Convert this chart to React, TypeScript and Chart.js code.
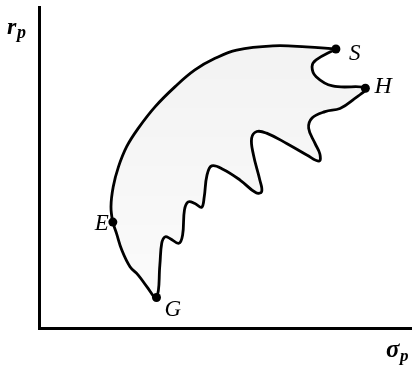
import React, { useEffect, useRef } from "react";
import { Chart, registerables } from "chart.js";

Chart.register(...registerables);

// Boundary of the feasible set (sigma_p, r_p), traced S -> top -> E -> G -> wiggles -> H -> S
const boundarySigma = [
  7.96, 7.16, 6.27, 5.3, 4.72, 4.18, 3.65, 3.11, 2.66, 2.35, 2.13, 1.99, 1.93,
  1.98, 2.08, 2.22, 2.44, 2.66, 2.89, 3.15,
  3.24, 3.29, 3.38, 3.51, 3.75, 3.85, 3.9, 4.0, 4.18, 4.36, 4.43, 4.5, 4.63,
  4.94, 5.39, 5.82, 5.97, 5.92, 5.75, 5.7, 5.84, 6.1, 6.64, 7.18, 7.51, 7.53,
  7.4, 7.23, 7.32, 7.67, 8.07, 8.41, 8.75,
  7.87, 7.43, 7.32, 7.43, 7.96,
];
const boundaryR = [
  8.69, 8.76, 8.79, 8.66, 8.4, 8.04, 7.52, 6.89, 6.22, 5.65, 5.02, 4.4, 3.78,
  3.3, 2.94, 2.43, 1.91, 1.65, 1.29, 0.95,
  1.96, 2.64, 2.84, 2.79, 2.64, 2.9, 3.68, 3.93, 3.88, 3.76, 4.09, 4.74, 5.05,
  4.94, 4.61, 4.21, 4.25, 4.61, 5.39, 5.91, 6.12, 6.07, 5.75, 5.39, 5.2, 5.42,
  5.75, 6.22, 6.54, 6.74, 6.84, 7.1, 7.47,
  7.54, 7.83, 8.14, 8.35, 8.69,
];

// Marked portfolios
const pointNames = ["S", "H", "E", "G"];
const pointSigma = [7.96, 8.75, 1.98, 3.15];
const pointR = [8.69, 7.47, 3.3, 0.95];

// Axis labels
const yLabel = ["r", "p"];
const xLabel = ["σ", "p"];

const SERIF = '"Liberation Serif", "DejaVu Serif", serif';

export default function App() {
  const ref = useRef<HTMLCanvasElement | null>(null);

  useEffect(() => {
    if (!ref.current) return;

    const labelPlugin = {
      id: "labels",
      afterDatasetsDraw(chart: any) {
        const ctx = chart.ctx;
        const xs = chart.scales.x;
        const ys = chart.scales.y;
        const ca = chart.chartArea;
        ctx.save();
        ctx.fillStyle = "#000";
        ctx.textBaseline = "alphabetic";
        const offsets: Record<string, [number, number, CanvasTextAlign]> = {
          S: [13, 11, "left"],
          H: [9, 5, "left"],
          E: [-4, 8, "right"],
          G: [8, 18, "left"],
        };
        pointNames.forEach((n, i) => {
          const px = xs.getPixelForValue(pointSigma[i]);
          const py = ys.getPixelForValue(pointR[i]);
          const o = offsets[n];
          ctx.font = `italic ${n === "H" ? 24 : 23}px ${SERIF}`;
          ctx.textAlign = o[2];
          ctx.fillText(n, px + o[0], py + o[1]);
        });
        ctx.textAlign = "left";
        // y-axis label r_p
        ctx.font = `bold italic 24px ${SERIF}`;
        ctx.fillText(yLabel[0], ca.left - 32, ca.top + 27);
        ctx.font = `bold italic 18px ${SERIF}`;
        ctx.fillText(yLabel[1], ca.left - 22, ca.top + 31);
        // x-axis label sigma_p
        ctx.font = `bold italic 25px ${SERIF}`;
        ctx.fillText(xLabel[0], ca.right - 26, ca.bottom + 29);
        ctx.font = `bold italic 17px ${SERIF}`;
        ctx.fillText(xLabel[1], ca.right - 12, ca.bottom + 33);
        ctx.restore();
      },
    };

    const chart = new Chart(ref.current, {
      type: "line",
      data: {
        datasets: [
          {
            data: boundarySigma.map((x, i) => ({ x, y: boundaryR[i] })),
            borderColor: "#000",
            borderWidth: 2.8,
            backgroundColor: (c: any) => {
              const ca = c.chart.chartArea;
              if (!ca) return "rgba(0,0,0,0.04)";
              const g = c.chart.ctx.createLinearGradient(0, ca.top, 0, ca.bottom);
              g.addColorStop(0, "rgba(0,0,0,0.055)");
              g.addColorStop(0.45, "rgba(0,0,0,0.035)");
              g.addColorStop(1, "rgba(0,0,0,0.01)");
              return g;
            },
            fill: "shape",
            tension: 0.4,
            pointRadius: 0,
            pointHoverRadius: 0,
          },
          {
            data: pointSigma.map((x, i) => ({ x, y: pointR[i] })),
            showLine: false,
            pointRadius: 4.5,
            pointBackgroundColor: "#000",
            pointBorderColor: "#000",
            pointBorderWidth: 0,
            fill: false,
          },
        ],
      },
      options: {
        animation: false,
        responsive: false,
        devicePixelRatio: 1,
        layout: { autoPadding: false, padding: { left: 39, top: 7, right: 0, bottom: 39 } },
        plugins: {
          legend: { display: false },
          tooltip: { enabled: false },
        },
        events: [],
        scales: {
          x: {
            type: "linear",
            min: 0,
            max: 10,
            ticks: { display: false },
            grid: { display: false, drawTicks: false },
            border: { display: true, width: 3, color: "#000" },
          },
          y: {
            type: "linear",
            min: 0,
            max: 10,
            ticks: { display: false },
            grid: { display: false, drawTicks: false },
            border: { display: true, width: 3, color: "#000" },
          },
        },
      },
      plugins: [labelPlugin],
    } as any);

    return () => chart.destroy();
  }, []);

  return (
    <div style={{ position: "fixed", left: 0, top: 0, width: 412, height: 367, background: "#fff" }}>
      <canvas ref={ref} width={412} height={367} style={{ width: 412, height: 367, display: "block" }} />
    </div>
  );
}
